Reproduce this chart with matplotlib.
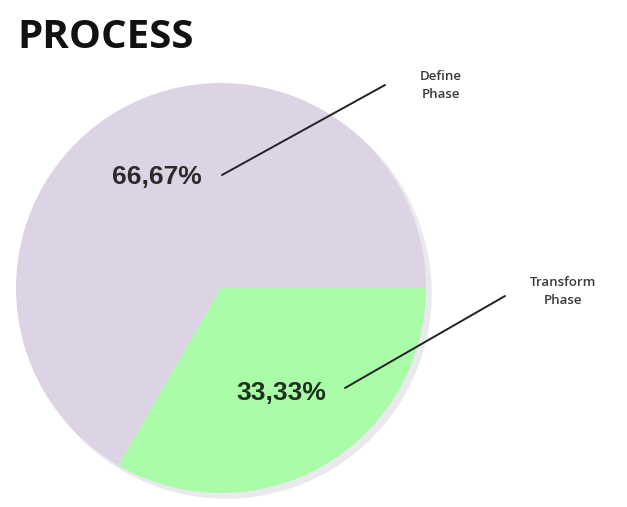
import numpy as np
import matplotlib.pyplot as plt
from matplotlib.patches import Circle

# data
phases = ['Define\nPhase', 'Transform\nPhase']
shares = [66.67, 33.33]
colors = ['#dcd4e4', '#aafca8']
pct_colors = ['#2a2a2a', '#1f2f1f']
pct_dist = [0.625, 0.59]

fig = plt.figure(figsize=(6.27, 5.07), dpi=100)
ax = fig.add_axes([0, 0, 1, 1])

center = (221, 288)
radius = 205

# soft shadow behind the pie
ax.add_patch(Circle((center[0] + 5, center[1] + 5), radius, color='#e9e9ee', zorder=0))

wedges, texts, autotexts = ax.pie(
    shares, colors=colors, center=center, radius=radius,
    startangle=0, counterclock=False,
    autopct=lambda p: ('%.2f%%' % p).replace('.', ','), pctdistance=0.6,
    wedgeprops=dict(linewidth=0), frame=True)
ax.set_xlim(0, 627)
ax.set_ylim(507, 0)
ax.axis('off')

for w, t, c, d in zip(wedges, autotexts, pct_colors, pct_dist):
    mid = np.deg2rad((w.theta1 + w.theta2) / 2)
    t.set_position((center[0] + d * radius * np.cos(mid),
                    center[1] + d * radius * np.sin(mid)))
    t.set_fontsize(19)
    t.set_fontweight('bold')
    t.set_fontfamily('Liberation Sans')
    t.set_color(c)

# leader lines and slice names
leaders = [((222, 175), (385, 85)), ((345, 388), (505, 296))]
name_pos = [(441, 86), (563, 292)]
for (start, end), pos, name in zip(leaders, name_pos, phases):
    ax.annotate('', xy=start, xytext=end,
                arrowprops=dict(arrowstyle='-', color='#222222', lw=1.4,
                                shrinkA=0, shrinkB=0))
    ax.text(pos[0], pos[1], name, ha='center', va='center', fontsize=9.5,
            color='#3a3a3a', fontfamily='Open Sans', fontweight='semibold',
            linespacing=1.5)

fig.text(17 / 627, 1 - 37 / 507, 'PROCESS', fontsize=29, fontweight='bold',
         fontfamily='Open Sans', color='#111111', va='center', ha='left')

fig.savefig('out.png', dpi=100)
